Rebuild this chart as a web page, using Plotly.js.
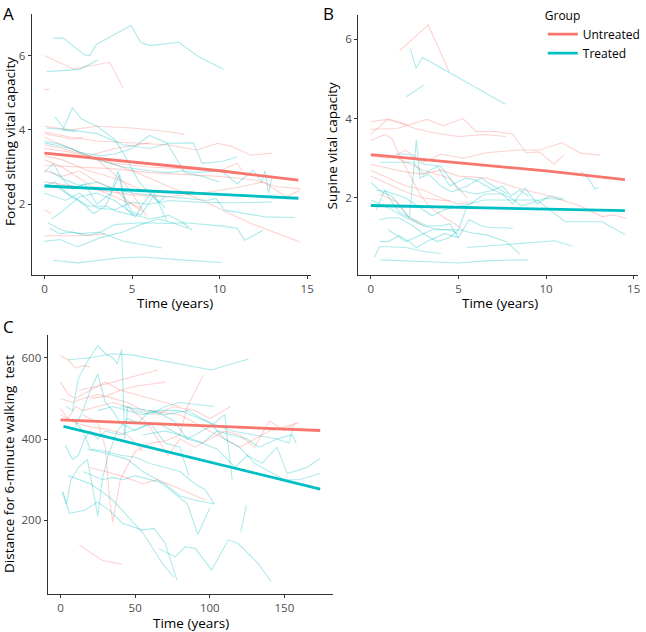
<!DOCTYPE html>
<html><head><meta charset="utf-8">
<script src="https://cdn.plot.ly/plotly-3.0.1.min.js"></script>
<style>body{margin:0;background:#fff}#plot{width:646px;height:632px}</style>
</head><body><div id="plot"></div>
<script>
// ---- Panel A: Forced sitting vital capacity (x = years) ----
const A_untreated = [
  [[0,6.0],[1.64,5.64],[3.72,5.82],[4.51,5.12]],
  [[0,5.09],[0.28,5.09]],
  [[0,4.1],[1.5,4.0],[3,4.1],[5,4.05],[7.1,3.95],[8.0,3.88]],
  [[0,3.95],[1.5,3.8],[3,3.7],[5,3.65],[7,3.6],[8.7,3.46],[9.9,3.64],[10.7,3.55],[11.8,3.32],[13,3.37]],
  [[0,3.9],[1.6,3.75],[2.2,3.8]],
  [[0,3.8],[2,3.4],[5,2.9],[9,2.1],[11.8,1.48],[14.6,0.98]],
  [[0,3.6],[1,3.5],[2.5,3.3],[4,3.5],[6,3.65]],
  [[0,3.4],[2,3.3],[4,3.1],[6,3.0],[8,2.95],[10,2.9],[11,3.1],[11.3,2.9]],
  [[0,3.2],[1,3.0],[2,2.7],[3,2.4],[4,2.2],[5,2.0],[5.6,1.8]],
  [[0,3.05],[2,3.0],[4,2.95],[6,2.85],[8,2.8],[10,2.75],[12,2.65],[13.3,2.47],[14.6,2.42]],
  [[0,2.6],[1.5,2.5],[3,2.4],[5,2.25],[7,2.2],[9,2.3],[11,2.45],[12.5,2.6],[13.8,2.2],[14.6,2.38]],
  [[0,1.85],[0.4,1.75]],
  [[0,1.15],[2,1.15],[3.5,1.2]],
  [[0,3.5],[1.5,3.4],[3,3.2],[4.5,2.6],[5,2.3],[5.8,1.7]],
  [[0,2.9],[1,2.75],[2,2.9],[3,2.6],[4,2.4],[5,2.0],[5.5,1.9]],
  [[0,3.3],[1,3.2],[2.5,2.9],[4,2.7],[5.5,2.4],[7,2.3],[8.5,2.35]]
];
const A_treated = [
  [[0.51,6.47],[1.07,6.47],[2.30,6.02],[2.59,6.0],[2.96,6.30],[4.94,6.81],[5.51,6.35],[6.07,6.27],[7.68,6.36],[8.80,5.97],[10.22,5.63]],
  [[0.14,5.57],[2.02,5.63],[3.05,5.88]],
  [[0.6,4.35],[1.1,4.05],[1.6,4.6],[2.1,4.3],[3.0,4.1],[4.0,3.75],[4.6,3.3],[5.4,2.6],[6.0,2.3],[6.9,1.9]],
  [[0.1,4.05],[1.5,4.0],[3.0,3.9],[4.5,3.6],[6.0,3.5],[7.1,3.64],[8.5,3.65],[9.0,3.1],[10.1,3.15],[11.0,3.27]],
  [[0,3.65],[1.5,3.5],[3,3.2],[4.5,3.0],[6,2.9],[7.1,2.85],[7.9,2.9],[8.6,2.85],[10.1,2.9],[11,2.55],[11.9,2.92],[12.4,2.6],[12.6,2.9],[12.8,2.3],[13.0,2.75]],
  [[0,2.85],[0.5,3.1],[1,2.7],[1.6,2.4],[2.3,2.55],[3,2.0],[3.8,2.3],[4.2,2.9],[4.5,2.2],[5.0,1.8],[5.5,1.7],[6.2,2.2],[6.5,2.05],[6.9,2.2]],
  [[0,2.3],[1.2,2.1],[2,2.3],[3,1.9],[4,1.85],[5,2.05],[6,2.0],[7.1,2.1],[9,2.05],[10.9,2.04],[13.0,2.06]],
  [[0.3,2.9],[1.0,2.7],[2.0,2.5],[3.0,2.6],[4.0,2.4],[5.0,2.3],[6.0,2.25],[7.1,2.2],[9.3,2.1],[9.8,2.15],[10.3,1.84],[12.6,1.66],[14.3,1.64]],
  [[0.4,1.6],[1,1.8],[2,2.2],[3,2.3],[4,2.1],[5.2,1.7],[6.0,1.6],[7.1,1.7],[7.86,1.52],[8.43,1.30]],
  [[0.3,1.35],[0.9,1.2],[1.6,1.25],[2.5,1.15],[3.2,1.25],[4.0,1.45],[5.5,1.5],[7.1,1.48],[8.0,1.5],[9.1,1.46],[10.2,1.41],[11.0,1.35],[11.44,1.03],[12.48,1.30]],
  [[0,1.0],[0.9,1.05],[1.9,0.85],[3.2,1.1],[4.5,1.25],[5.5,1.45],[6.5,1.6],[7.3,1.5],[8.2,1.35]],
  [[0.5,0.49],[1.9,0.42],[4.2,0.55],[5.6,0.58],[7.8,0.5],[10.1,0.43]],
  [[0.2,1.5],[1.0,1.3],[2.0,1.2],[3.1,1.25],[4.5,1.0],[6.7,0.82]],
  [[0.8,2.45],[1.5,2.2],[2.5,1.95],[3.5,1.95],[4.3,2.8],[4.7,1.85],[5.2,1.65],[5.6,2.0],[6.2,2.35],[7.0,1.55]],
  [[0,2.5],[0.6,2.6],[1.3,2.3],[2,2.1],[2.8,1.75],[3.5,1.95],[4.2,1.8],[5.1,1.7]],
  [[0,3.7],[1,3.6],[2,3.4],[3.2,3.3],[4,3.35],[5,3.5],[6,3.85],[7,3.65],[8,2.85],[9,2.75],[10,2.6]],
  [[1,4.0],[1.8,3.95]]
];
const A_fit_untreated = [[0,3.375],[5,3.13],[10,2.90],[14.5,2.647]];
const A_fit_treated = [[0,2.49],[5,2.37],[10,2.25],[14.5,2.16]];

// ---- Panel B: Supine vital capacity ----
const B_untreated = [
  [[1.64,5.71],[3.28,6.36],[4.47,5.18]],
  [[0,3.92],[0.92,3.98],[2.06,3.84]],
  [[0,3.73],[1.49,3.75],[3.19,3.98],[4.13,3.82],[5.26,4.0],[6.02,3.67],[7.15,3.67],[8.09,3.61],[8.85,3.14],[9.6,3.16],[10.45,2.85],[11.0,3.08]],
  [[0,3.6],[1.0,4.0],[2,3.85],[2.5,3.75],[3.5,3.65],[5,3.55],[6.5,3.6],[7.7,3.55]],
  [[0,3.45],[0.8,3.6],[1.2,3.5],[1.6,3.1],[2.2,2.6],[2.8,2.1],[3.3,1.8],[4.2,1.5],[4.8,1.35],[5.26,1.19]],
  [[0,3.05],[1,3.0],[2,3.2],[3,2.9],[4,3.1],[5.3,3.0],[6.58,3.14],[8.47,3.21],[9.6,3.21],[10.9,3.39],[11.97,3.13],[13.1,3.08]],
  [[0,2.85],[1,2.75],[2,2.65],[3,2.6],[4,2.7],[5,2.55],[6.58,2.5],[8.47,2.24],[10.36,2.03],[12.06,1.78],[13.2,1.53],[13.85,1.57],[14.6,1.49]],
  [[0,2.7],[1,2.5],[2,2.3],[3,2.2],[4,2.0],[5,1.85],[5.6,1.9]],
  [[0,2.55],[1,2.35],[2,2.15],[3,2.0],[4,1.95],[4.5,1.92]],
  [[0.5,2.1],[1.5,1.9],[2.2,1.5],[3,1.3]],
  [[1.5,3.0],[3,2.7],[4.5,2.5],[5.5,2.0]]
];
const B_treated = [
  [[2.25,5.77],[2.58,5.27],[2.96,5.54],[7.68,4.36]],
  [[2.02,4.55],[3.04,4.85]],
  [[0,2.4],[0.6,2.15],[1.2,2.05],[1.8,1.7],[2.2,1.5],[2.6,3.46],[2.8,2.5],[3.3,2.6],[4,2.3],[4.6,2.15],[5.5,2.3],[6.3,2.5],[7,2.3],[7.8,2.1]],
  [[0.5,2.9],[1.5,2.9],[2.4,2.9],[3.0,2.6],[3.8,2.8],[4.5,2.3],[5.4,2.5],[6,2.45],[7,2.2],[7.5,2.3],[8.0,2.05],[8.5,2.2],[9.0,2.05]],
  [[0.3,1.7],[0.8,2.2],[1.2,1.9],[1.6,1.65],[2.0,1.55],[3.2,1.3],[4.0,1.3],[4.5,1.35],[5.0,1.0],[5.6,1.45],[6.3,1.3],[6.8,1.25],[7.6,1.25],[8.1,1.23]],
  [[0.5,1.45],[1.0,1.5],[1.6,1.5],[2.4,1.3],[3,1.1],[3.8,0.9],[4.5,1.0],[5.0,1.2],[5.5,1.8],[6.5,2.1],[7.5,2.1],[8.1,1.85],[8.8,2.25],[9.5,1.85],[10.2,2.05],[11,1.98]],
  [[0.5,0.9],[1.0,0.9],[1.6,1.05],[2.2,0.9],[2.6,0.75],[3.2,0.9],[4.2,1.1],[5.0,1.0]],
  [[0.2,0.5],[0.5,0.77],[1.0,0.77],[2.0,0.75],[3.0,0.65],[4.0,0.6]],
  [[0.55,0.44],[2.62,0.4],[4.98,0.36],[6.77,0.42],[8.94,0.44]],
  [[5.5,0.75],[8.3,0.85],[10.5,0.92],[11.5,0.79]],
  [[0,1.95],[1,1.75],[2,1.5],[3,1.3],[4,1.2],[5,1.2],[6,1.1],[6.6,1.07],[7.7,0.9],[8.5,0.59]],
  [[0.3,2.2],[1,2.15],[2,2.0],[3,1.7],[3.5,1.55],[4.2,1.7],[5.5,1.85],[6.5,1.95],[7.8,1.95],[9.5,1.95],[10.2,1.7],[11.1,1.4],[13.2,1.4],[14.5,1.08]],
  [[12.0,2.66],[12.4,2.5],[12.8,2.22],[13.0,2.27]],
  [[1.0,1.2],[2.0,0.9],[3.0,1.1],[3.5,1.2],[4.5,1.2],[5,1.1]],
  [[1.5,3.1],[2.2,3.1],[3,2.85],[4,2.8],[4.5,2.5],[5,2.2],[6,2.1],[7,2.2],[8,2.0],[8.6,1.8],[10,2.0],[11,1.95]]
];
const B_fit_untreated = [[0,3.09],[5,2.88],[10,2.68],[14.5,2.46]];
const B_fit_treated = [[0,1.81],[14.5,1.68]];

// ---- Panel C: Distance for 6-minute walking test ----
const C_untreated = [
  [[0,605],[5,595],[10,575],[15,580],[20,578]],
  [[0,540],[5,510],[10,500],[20,520],[30,540],[40,520],[50,510],[60,500],[70,490],[80,480]],
  [[0,500],[8,490],[15,500],[25,510],[35,500],[45,490],[55,470],[65,460],[75,480],[90,470],[100,450],[114,480]],
  [[0,475],[5,450],[10,480],[15,470],[25,480],[35,490],[45,480],[58,440],[72,360],[80,400],[90,380],[100,400],[110,420],[120,410],[130,380],[140,445],[150,420],[158,440]],
  [[12,520],[25,530],[40,545],[55,560],[65,570]],
  [[20,500],[30,505],[40,520],[50,530],[60,535],[70,540]],
  [[12.6,139],[28.1,101],[41.4,92]],
  [[15,460],[25,440],[30,380],[33,250],[35,195],[40,300],[50,370],[60,390],[70,395],[80,410],[85,480],[95.7,557]],
  [[20,330],[30,320],[40,310],[55,290],[65,300],[75,285],[85,270],[97,250]],
  [[0,460],[10,440],[20,430],[30,425],[45,410],[55,370]],
  [[60,470],[80,460],[100,420],[120,380],[140,420],[160,440]]
];
const C_treated = [
  [[5,595],[20,600],[35,610],[48,607],[101,570],[126,597]],
  [[4,480],[8,470],[12,550],[18,590],[25,630],[30,610],[35,600],[38,585],[41,620],[43,400],[45,480],[50,470],[60,460],[70,480],[80,490],[90,485],[103,480]],
  [[1,270],[4,240],[7,300],[12,330],[18,350],[25,210],[28,300],[32,360],[38,420],[45,450],[52,440],[60,470],[68,460],[76,445],[85,400],[95,390],[105,420],[115,410],[125,400],[133,380],[145,400],[153,390],[156,430]],
  [[1.6,270],[6,217],[16,225],[24.8,245],[32.6,225],[41.5,193],[54.8,176],[62.6,180],[70.2,143],[78,53]],
  [[5,310],[12,300],[20,290],[28,270],[35,250],[45,210],[55,170],[62,130],[68,95],[76,60]],
  [[65.8,131],[76.9,110],[83.5,135],[90.2,131],[101.3,78],[112.4,152],[119,143],[132.3,94],[141.2,49]],
  [[120.8,172],[124.6,238]],
  [[10,430],[15,470],[20,520],[25,560],[30,490],[35,470],[40,440],[50,420],[60,440],[70,390],[80,380],[86,310]],
  [[3,385],[8,350],[12,360],[16,400],[20,420],[25,400],[30,420],[40,410],[55,430],[65,440],[75,420],[85,400],[100,430],[110,460],[115,300]],
  [[8,450],[15,420],[20,375],[30,370],[40,360],[50,355],[60,340],[70,330],[80,320],[90,290],[97,275],[103,240]],
  [[18,375],[30,365],[45,350],[55,320],[65,300],[75,270],[85,240],[92,165],[100,230]],
  [[40,480],[50,475],[60,470],[70,460],[85,470],[100,440],[110,400],[120,380],[130,340],[140,320],[150,300],[160,300],[174,315]],
  [[55,410],[70,420],[85,405],[105,375],[117,330],[125,360],[135,340],[145,380],[152,315],[165,330],[174,352]],
  [[25,470],[35,480],[45,470],[55,460],[65,470],[80,470],[100,440],[115,420],[130,410],[145,400],[155,410],[158,390]],
  [[15,320],[22,310],[28,300],[35,305],[42,300],[50,310],[60,300],[70,290],[80,260],[90,250],[103,240]]
];
const C_fit_untreated = [[0,447],[174,421]];
const C_fit_treated = [[2,431],[174,277]];

// ---- Text ----
const groupNames = ['Untreated', 'Treated'];
const legendTitle = 'Group';
const xTitle = 'Time (years)';
const yTitles = ['Forced sitting vital capacity', 'Supine vital capacity', 'Distance for 6-minute walking  test'];
const panelLabels = ['A', 'B', 'C'];
const ticksYears = [0, 5, 10, 15];
const ticksVC = [2, 4, 6];
const ticksC_x = [0, 50, 100, 150];
const ticksC_y = [200, 400, 600];

const RED = '#F8766D', TEAL = '#00BFC4';
const RED_T = 'rgba(248,118,109,0.32)', TEAL_T = 'rgba(0,191,196,0.32)';

const traces = [];
function addGroup(series, color, xa, ya) {
  series.forEach(s => traces.push({
    x: s.map(p => p[0]), y: s.map(p => p[1]), xaxis: xa, yaxis: ya,
    type: 'scatter', mode: 'lines', line: {color: color, width: 1.1},
    showlegend: false, hoverinfo: 'skip'
  }));
}
function addFit(pts, color, xa, ya, name, show) {
  traces.push({
    x: pts.map(p => p[0]), y: pts.map(p => p[1]), xaxis: xa, yaxis: ya,
    type: 'scatter', mode: 'lines', line: {color: color, width: 2.8},
    name: name, legendgroup: name, showlegend: show, hoverinfo: 'skip'
  });
}
addGroup(A_untreated, RED_T, 'x', 'y');
addGroup(A_treated, TEAL_T, 'x', 'y');
addGroup(B_untreated, RED_T, 'x2', 'y2');
addGroup(B_treated, TEAL_T, 'x2', 'y2');
addGroup(C_untreated, RED_T, 'x3', 'y3');
addGroup(C_treated, TEAL_T, 'x3', 'y3');
addFit(A_fit_untreated, RED, 'x', 'y', groupNames[0], true);
addFit(A_fit_treated, TEAL, 'x', 'y', groupNames[1], true);
addFit(B_fit_untreated, RED, 'x2', 'y2', groupNames[0], false);
addFit(B_fit_treated, TEAL, 'x2', 'y2', groupNames[1], false);
addFit(C_fit_untreated, RED, 'x3', 'y3', groupNames[0], false);
addFit(C_fit_treated, TEAL, 'x3', 'y3', groupNames[1], false);

const W = 646, H = 632;
const ax = (extra) => Object.assign({
  showline: true, linecolor: '#333333', linewidth: 1, ticks: 'outside', ticklen: 3,
  tickcolor: '#333333', tickwidth: 1, showgrid: false, zeroline: false,
  tickfont: {size: 11.5, color: '#4d4d4d', family: 'Open Sans'}, automargin: false
}, extra);

const tfont = {size: 13.5, color: '#000', family: 'Open Sans'};
function txt(t, px, py, angle, size) {
  return {text: t, x: px / W, y: 1 - py / H, xref: 'paper', yref: 'paper',
    xanchor: 'center', yanchor: 'middle', showarrow: false, textangle: angle || 0,
    font: Object.assign({}, tfont, size ? {size: size} : {})};
}
function lab(t, px, py) {
  return {text: t, x: px / W, y: 1 - py / H, xref: 'paper', yref: 'paper',
    xanchor: 'left', yanchor: 'top', showarrow: false, font: {size: 17, color: '#000', family: 'Open Sans'}};
}

const layout = {
  width: W, height: H, margin: {l: 0, r: 0, t: 0, b: 0},
  paper_bgcolor: '#fff', plot_bgcolor: '#fff',
  font: {family: 'Open Sans', color: '#000'},
  showlegend: true,
  legend: {x: 547/W, y: 1 - 4/H, xanchor: 'left', yanchor: 'top',
    title: {text: legendTitle, font: {size: 12, color: '#000', family: 'Open Sans'}},
    font: {size: 12, color: '#000', family: 'Open Sans'}, bgcolor: 'rgba(0,0,0,0)', tracegroupgap: 0},
  xaxis: ax({domain: [32/W, 313.5/W], anchor: 'y', range: [-0.725, 15.225], tickvals: ticksYears}),
  yaxis: ax({domain: [(H-275)/H, (H-14)/H], anchor: 'x', range: [0.094, 7.12], tickvals: ticksVC}),
  xaxis2: ax({domain: [360.9/W, 642.6/W], anchor: 'y2', range: [-0.725, 15.225], tickvals: ticksYears}),
  yaxis2: ax({domain: [(H-274.7)/H, (H-15)/H], anchor: 'x2', range: [0.066, 6.61], tickvals: ticksVC}),
  xaxis3: ax({domain: [47.9/W, 335.8/W], anchor: 'y3', range: [-8.7, 182.7], tickvals: ticksC_x}),
  yaxis3: ax({domain: [(H-594.3)/H, (H-335)/H], anchor: 'x3', range: [18, 656], tickvals: ticksC_y}),
  annotations: [
    lab(panelLabels[0], 1, 0), lab(panelLabels[1], 323, 0), lab(panelLabels[2], 1, 313),
    txt(xTitle, 176, 303), txt(xTitle, 504, 303), txt(xTitle, 192, 623),
    txt(yTitles[0], 10, 141, -90), txt(yTitles[1], 335, 145, -90), txt(yTitles[2], 9, 464, -90)
  ]
};
Plotly.newPlot('plot', traces, layout, {staticPlot: true, displayModeBar: false});
</script></body></html>
